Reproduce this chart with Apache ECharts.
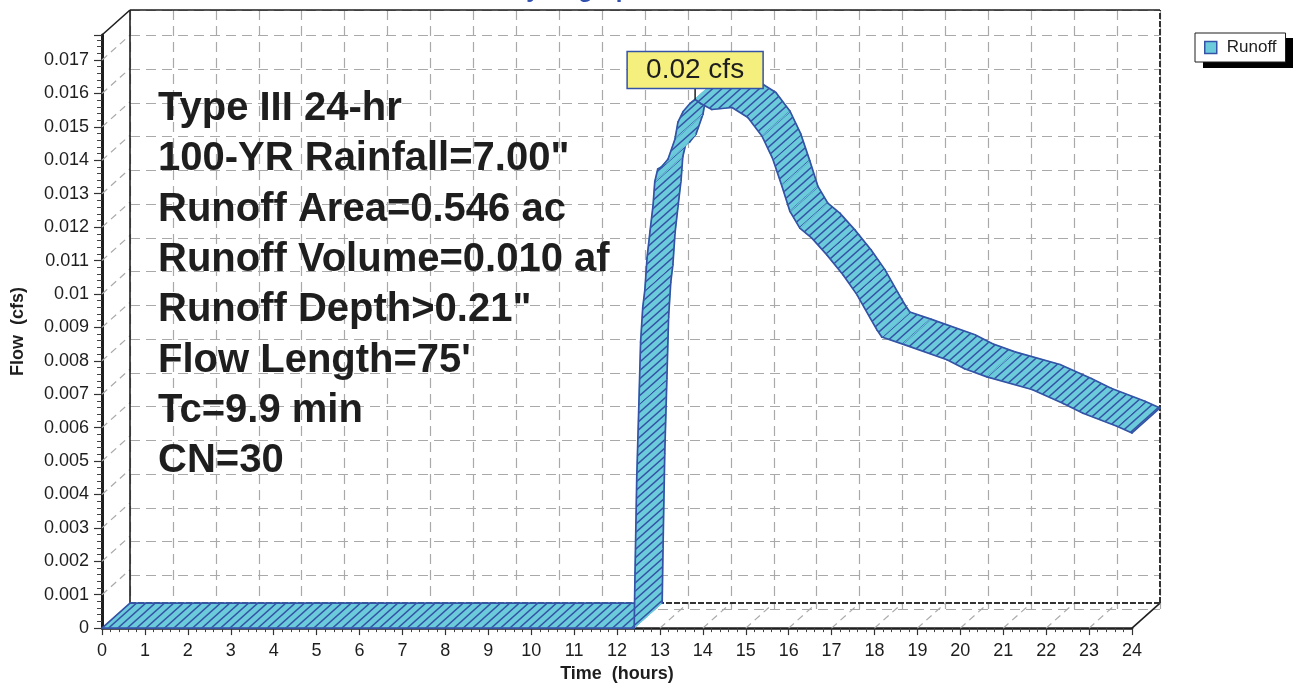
<!DOCTYPE html>
<html>
<head>
<meta charset="utf-8">
<script src="https://cdn.jsdelivr.net/npm/echarts@6/dist/echarts.min.js"></script>
<style>
html,body{margin:0;padding:0;background:#fff;}
#chart{width:1294px;height:688px;}
</style>
</head>
<body>
<div id="chart"></div>
<script>
// ---------------- data ----------------
const times = [0, 12.4, 12.42, 12.46, 12.51, 12.55, 12.60, 12.65, 12.70, 12.77, 12.84, 12.88, 12.95, 13.04, 13.19, 13.35, 13.42, 13.54, 13.70, 13.82, 13.95, 14.21, 14.68, 15.05, 15.38, 15.63, 15.84, 16.03, 16.26, 16.54, 16.89, 17.27, 17.59, 17.89, 18.06, 18.17, 18.66, 19.69, 20.10, 20.62, 21.67, 22.40, 22.86, 23.65, 24.00];
const flows = [0, 0, 0.00166, 0.00447, 0.00672, 0.00856, 0.0096, 0.01013, 0.01108, 0.01188, 0.01265, 0.01336, 0.01374, 0.0138, 0.01404, 0.01463, 0.01514, 0.01546, 0.0157, 0.01582, 0.0157, 0.01552, 0.01558, 0.01528, 0.01472, 0.01404, 0.01324, 0.01247, 0.01197, 0.01167, 0.01117, 0.01057, 0.00998, 0.0093, 0.00892, 0.00871, 0.0085, 0.00803, 0.00776, 0.00752, 0.00714, 0.00672, 0.00643, 0.00604, 0.00584];
const xTicks = [0,1,2,3,4,5,6,7,8,9,10,11,12,13,14,15,16,17,18,19,20,21,22,23,24];
const yTicks = [0,0.001,0.002,0.003,0.004,0.005,0.006,0.007,0.008,0.009,0.01,0.011,0.012,0.013,0.014,0.015,0.016,0.017];
const seriesName = 'Runoff';
const titleText = 'Hydrograph';
const xAxisName = 'Time  (hours)';
const yAxisName = 'Flow  (cfs)';
const peakUnit = ' cfs';
const infoLines = ['Type III 24-hr', '100-YR Rainfall=7.00"', 'Runoff Area=0.546 ac', 'Runoff Volume=0.010 af', 'Runoff Depth>0.21"', "Flow Length=75'", 'Tc=9.9 min', 'CN=30'];

// ---------------- style ----------------
const FONT = '"Liberation Sans", Arial, Helvetica, sans-serif';
const X_MIN = 0, X_MAX = 24, Y_MIN = 0, Y_MAX = 0.01775;
const DX = 28, DY = 25;               // 3-D depth offset in pixels
const FILL = '#6BCBDB';
const EDGE = '#3453A6';
const GRID_GRAY = '#A9A9A9';
const DARK = '#1E1E1E';

function makeHatch() {
  const c = document.createElement('canvas');
  c.width = DX; c.height = DY;
  const g = c.getContext('2d');
  g.fillStyle = FILL; g.fillRect(0, 0, DX, DY);
  g.strokeStyle = EDGE; g.lineWidth = 1.5;
  for (let j = -6; j <= 6; j++) {
    const x0 = j * DX / 3;
    g.beginPath();
    g.moveTo(x0 - DX, 2 * DY);
    g.lineTo(x0 + 2 * DX, -DY);
    g.stroke();
  }
  return c;
}
const hatch = { image: makeHatch(), repeat: 'repeat' };

const back = p => [p[0] + DX, p[1] - DY];

let peakIdx = 0;
flows.forEach((v, i) => { if (v > flows[peakIdx]) peakIdx = i; });

const chart = echarts.init(document.getElementById('chart'), null, { renderer: 'canvas' });

const axisLabelStyle = { fontFamily: FONT, fontSize: 18, color: DARK };

const option = {
  animation: false,
  backgroundColor: '#ffffff',
  grid: [
    { left: 102, right: 162, top: 35, bottom: 54 },
    { left: 102 + DX, right: 162 - DX, top: 35 - DY, bottom: 54 + DY }
  ],
  xAxis: [
    {
      type: 'value', gridIndex: 0, min: X_MIN, max: X_MAX, interval: 1,
      name: xAxisName, nameLocation: 'middle', nameGap: 36,
      nameTextStyle: { fontFamily: FONT, fontSize: 18, fontWeight: 'bold', color: DARK },
      axisLine: { show: true, onZero: false, lineStyle: { color: DARK, width: 2.5 } },
      axisTick: { show: true, length: 7, lineStyle: { color: '#333', width: 1.2 } },
      minorTick: { show: true, splitNumber: 5, length: 4, lineStyle: { color: '#444', width: 1 } },
      axisLabel: Object.assign({ margin: 14 }, axisLabelStyle),
      splitLine: { show: false }
    },
    {
      type: 'value', gridIndex: 1, min: X_MIN, max: X_MAX, interval: 1,
      axisLine: { show: false }, axisTick: { show: false }, axisLabel: { show: false },
      splitLine: { show: true, lineStyle: { color: GRID_GRAY, width: 1.2, type: [10, 6] } }
    }
  ],
  yAxis: [
    {
      type: 'value', gridIndex: 0, min: Y_MIN, max: Y_MAX, interval: 0.001,
      name: yAxisName, nameLocation: 'middle', nameGap: 75, nameRotate: 90,
      nameTextStyle: { fontFamily: FONT, fontSize: 18, fontWeight: 'bold', color: DARK },
      axisLine: { show: true, onZero: false, lineStyle: { color: DARK, width: 3 } },
      axisTick: { show: true, length: 8, lineStyle: { color: '#333', width: 1.2 } },
      minorTick: { show: true, splitNumber: 5, length: 5, lineStyle: { color: '#444', width: 1 } },
      axisLabel: Object.assign({ margin: 13, showMaxLabel: false }, axisLabelStyle),
      splitLine: { show: false }
    },
    {
      type: 'value', gridIndex: 1, min: Y_MIN, max: Y_MAX, interval: 0.001,
      axisLine: { show: false }, axisTick: { show: false }, axisLabel: { show: false },
      splitLine: { show: true, lineStyle: { color: GRID_GRAY, width: 1.2, type: [10, 6] } }
    }
  ],
  legend: {
    left: 1195, top: 33, orient: 'horizontal',
    data: [{ name: seriesName, icon: 'rect' }],
    itemWidth: 12, itemHeight: 12,
    padding: [6, 9, 6, 9],
    backgroundColor: '#ffffff', borderColor: DARK, borderWidth: 1,
    selectedMode: false,
    itemStyle: { color: FILL, borderColor: EDGE, borderWidth: 1.5 },
    textStyle: { fontFamily: FONT, fontSize: 17, color: DARK, padding: [0, 0, 0, 5] }
  },
  graphic: [
    { type: 'rect', z: 1, shape: { x: 1203, y: 38, width: 90, height: 30 }, style: { fill: '#000' } },
    { type: 'text', z: 5, x: 577, y: -10,
      style: { text: titleText, font: 'bold 24px ' + FONT, fill: '#3050B0', align: 'center', verticalAlign: 'middle' } },
    { type: 'text', z: 5, x: 158, y: 84,
      style: { text: infoLines.join('\n'), font: 'bold 40px ' + FONT, fill: DARK, lineHeight: 50.3, align: 'left', verticalAlign: 'top' } }
  ],
  series: [
    {
      // 3-D frame: side wall, floor, back plane border
      type: 'custom', name: 'frame', xAxisIndex: 0, yAxisIndex: 0, z: 1, silent: true,
      data: [[0, 0]],
      renderItem: function (params, api) {
        const ch = [];
        const gray = { stroke: GRID_GRAY, lineWidth: 1.2, lineDash: [7, 5], fill: null };
        const solid = { stroke: DARK, lineWidth: 1.6, fill: null };
        const dashed = { stroke: '#333', lineWidth: 2, lineDash: [6, 2], fill: null };
        yTicks.forEach(v => {
          if (v === 0) return;
          const p = api.coord([X_MIN, v]);
          ch.push({ type: 'line', shape: { x1: p[0], y1: p[1], x2: p[0] + DX, y2: p[1] - DY }, style: gray });
        });
        xTicks.forEach(t => {
          if (t === X_MIN || t === X_MAX) return;
          const p = api.coord([t, Y_MIN]);
          ch.push({ type: 'line', shape: { x1: p[0], y1: p[1], x2: p[0] + DX, y2: p[1] - DY }, style: gray });
        });
        const a = api.coord([X_MIN, Y_MIN]), b = api.coord([X_MAX, Y_MIN]);
        const c = api.coord([X_MIN, Y_MAX]), d = api.coord([X_MAX, Y_MAX]);
        const A = back(a), B = back(b), C = back(c), D = back(d);
        ch.push({ type: 'line', shape: { x1: c[0], y1: c[1], x2: C[0], y2: C[1] }, style: solid });
        ch.push({ type: 'line', shape: { x1: b[0], y1: b[1], x2: B[0], y2: B[1] }, style: solid });
        ch.push({ type: 'line', shape: { x1: C[0], y1: C[1], x2: D[0], y2: D[1] }, style: solid });
        ch.push({ type: 'line', shape: { x1: A[0], y1: A[1], x2: C[0], y2: C[1] }, style: solid });
        ch.push({ type: 'line', shape: { x1: B[0], y1: B[1], x2: D[0], y2: D[1] }, style: dashed });
        ch.push({ type: 'line', shape: { x1: A[0], y1: A[1], x2: B[0], y2: B[1] }, style: dashed });
        return { type: 'group', children: ch };
      }
    },
    {
      // the hydrograph ribbon, one 3-D segment per data interval
      type: 'custom', name: seriesName, xAxisIndex: 0, yAxisIndex: 0, z: 3, silent: true,
      itemStyle: { color: FILL, borderColor: EDGE },
      data: times.map((t, i) => [t, flows[i]]),
      encode: { x: 0, y: 1 },
      renderItem: function (params, api) {
        const i = params.dataIndex;
        const n = times.length;
        if (i >= n - 1) return null;
        const p0 = api.coord([times[i], flows[i]]);
        const p1 = api.coord([times[i + 1], flows[i + 1]]);
        const q0 = back(p0), q1 = back(p1);
        const edge = { stroke: EDGE, lineWidth: 1.7, fill: null, lineCap: 'round' };
        const ch = [
          { type: 'polygon', shape: { points: [p0, p1, q1, q0] }, style: { fill: hatch, stroke: FILL, lineWidth: 1 } },
          { type: 'polyline', shape: { points: [p0, p1] }, style: edge },
          { type: 'polyline', shape: { points: [q0, q1] }, style: edge }
        ];
        if (i === 0) ch.push({ type: 'polyline', shape: { points: [p0, q0] }, style: edge });
        if (i === n - 2) ch.push({ type: 'polyline', shape: { points: [p1, q1] }, style: edge });
        return { type: 'group', children: ch };
      }
    },
    {
      // peak flow callout
      type: 'custom', name: 'peak', xAxisIndex: 0, yAxisIndex: 0, z: 10, silent: true,
      data: [[times[peakIdx], flows[peakIdx]]],
      renderItem: function (params, api) {
        const p = api.coord([api.value(0), api.value(1)]);
        const w = 136, h = 37, gap = 11;
        return {
          type: 'group',
          children: [
            { type: 'line', shape: { x1: p[0], y1: p[1] - gap, x2: p[0], y2: p[1] }, style: { stroke: DARK, lineWidth: 1.5 } },
            { type: 'rect', shape: { x: p[0] - w / 2, y: p[1] - gap - h, width: w, height: h },
              style: { fill: '#F5F07D', stroke: EDGE, lineWidth: 1.5 } },
            { type: 'text', x: p[0], y: p[1] - gap - h / 2,
              style: { text: api.value(1).toFixed(2) + peakUnit, font: '28px ' + FONT, fill: DARK, align: 'center', verticalAlign: 'middle' } }
          ]
        };
      }
    }
  ]
};

chart.setOption(option);
</script>
</body>
</html>
